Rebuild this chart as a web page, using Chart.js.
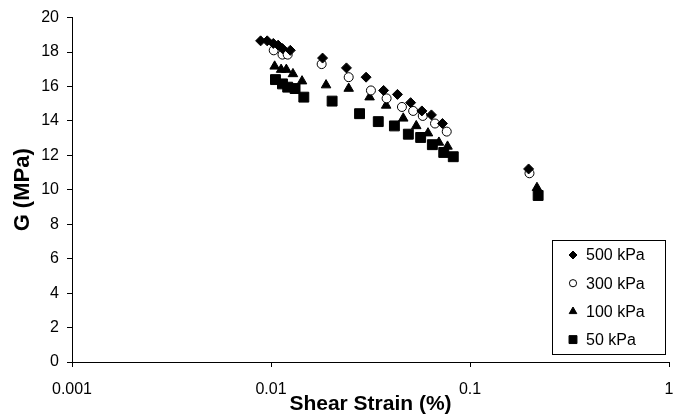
<!DOCTYPE html>
<html>
<head>
<meta charset="utf-8">
<script src="https://cdn.jsdelivr.net/npm/chart.js@4.4.0/dist/chart.umd.min.js"></script>
<style>
  html, body { margin: 0; padding: 0; background: #fff; }
  #wrap { width: 683px; height: 417px; }
</style>
</head>
<body>
<div id="wrap"><canvas id="gChart"></canvas></div>
<script>
// shear strain (%) and G (MPa)
const strain500 = [0.00887, 0.00957, 0.01027, 0.01086, 0.01142, 0.0125, 0.01816, 0.02394, 0.03005, 0.0368, 0.0432, 0.0503, 0.0573, 0.064, 0.0727, 0.197];
const g500 = [18.65, 18.65, 18.5, 18.4, 18.2, 18.1, 17.65, 17.08, 16.54, 15.77, 15.54, 15.06, 14.58, 14.35, 13.85, 11.21];

const strain300 = [0.01032, 0.01142, 0.01213, 0.01797, 0.02457, 0.03178, 0.0381, 0.0455, 0.0518, 0.0579, 0.0667, 0.0764, 0.199];
const g300 = [18.1, 17.85, 17.85, 17.3, 16.54, 15.77, 15.31, 14.81, 14.58, 14.29, 13.85, 13.38, 10.96];

const strain100 = [0.01043, 0.01124, 0.01194, 0.01289, 0.01432, 0.01891, 0.02457, 0.03129, 0.0379, 0.0462, 0.0537, 0.0615, 0.0698, 0.0771, 0.217];
const g100 = [17.17, 16.98, 16.98, 16.73, 16.31, 16.08, 15.88, 15.38, 14.9, 14.15, 13.71, 13.29, 12.75, 12.52, 10.12];

const strain50 = [0.01053, 0.01142, 0.01213, 0.01321, 0.01462, 0.02028, 0.02786, 0.0346, 0.0417, 0.049, 0.0565, 0.0647, 0.0738, 0.0824, 0.220];
const g50 = [16.4, 16.15, 15.96, 15.88, 15.38, 15.15, 14.42, 13.96, 13.71, 13.23, 13.04, 12.62, 12.17, 11.92, 9.67];

const seriesLabels = ['500 kPa', '300 kPa', '100 kPa', '50 kPa'];
const xTicks = [0.001, 0.01, 0.1, 1];
const yTicks = [0, 2, 4, 6, 8, 10, 12, 14, 16, 18, 20];

const FONT = "'Liberation Sans', Arial, sans-serif";

function pts(xs, ys) {
  return xs.map((x, i) => ({ x: x, y: ys[i] }));
}

const styles = [
  { pointStyle: 'rectRot', pointRadius: 5, bg: '#000', border: '#000' },
  { pointStyle: 'circle', pointRadius: 4.5, bg: '#fff', border: '#000' },
  { pointStyle: 'triangle', pointRadius: 5.5, bg: '#000', border: '#000' },
  { pointStyle: 'rect', pointRadius: 7, bg: '#000', border: '#000' },
];

const allData = [pts(strain500, g500), pts(strain300, g300), pts(strain100, g100), pts(strain50, g50)];

const datasets = allData.map((d, i) => ({
  label: seriesLabels[i],
  data: d,
  showLine: false,
  pointStyle: styles[i].pointStyle,
  pointRadius: styles[i].pointRadius,
  pointHoverRadius: styles[i].pointRadius,
  pointBackgroundColor: styles[i].bg,
  pointBorderColor: styles[i].border,
  pointBorderWidth: 1,
}));

// legend box drawn in the lower right corner of the plot
const legendBox = {
  id: 'legendBox',
  afterDraw(chart) {
    const ctx = chart.ctx;
    const a = chart.chartArea;
    const w = 113, h = 114;
    const x0 = a.right - 4 - w, y0 = a.bottom - 8 - h;
    ctx.save();
    ctx.fillStyle = '#fff';
    ctx.fillRect(x0, y0, w, h);
    ctx.strokeStyle = '#000';
    ctx.lineWidth = 1;
    ctx.strokeRect(Math.round(x0) + 0.5, Math.round(y0) + 0.5, w, h);
    ctx.font = '16px ' + FONT;
    ctx.textBaseline = 'middle';
    ctx.textAlign = 'left';
    seriesLabels.forEach((lab, i) => {
      const cy = y0 + 15 + i * 28.2;
      const cx = x0 + 21;
      const s = styles[i];
      ctx.fillStyle = s.bg;
      ctx.strokeStyle = s.border;
      ctx.lineWidth = 1;
      Chart.helpers.drawPoint(ctx, {
        pointStyle: s.pointStyle,
        radius: s.pointRadius * 0.8,
        rotation: 0,
        borderWidth: 1,
      }, cx, cy);
      ctx.fillStyle = '#000';
      ctx.fillText(lab, x0 + 34, cy + 1);
    });
    ctx.restore();
  }
};

new Chart(document.getElementById('gChart'), {
  type: 'scatter',
  data: { datasets: datasets },
  options: {
    responsive: true,
    maintainAspectRatio: false,
    animation: false,
    layout: { padding: { top: 16, right: 14, left: 0, bottom: 0 } },
    plugins: {
      legend: { display: false },
      tooltip: { enabled: false },
    },
    scales: {
      x: {
        type: 'logarithmic',
        min: 0.001,
        max: 1,
        afterBuildTicks: (scale) => { scale.ticks = xTicks.map(v => ({ value: v })); },
        afterFit: (scale) => {
          scale.height = 55;
          scale.paddingLeft = 0;
          scale.paddingRight = 0;
        },
        ticks: {
          color: '#000',
          font: { family: FONT, size: 16 },
          padding: 13,
          maxRotation: 0,
          autoSkip: false,
          callback: (v) => String(v),
        },
        grid: { drawOnChartArea: false, drawTicks: true, tickLength: 5, color: '#000' },
        border: { display: true, color: '#000', width: 1 },
        title: {
          display: true,
          text: 'Shear Strain (%)',
          color: '#000',
          font: { family: FONT, size: 21, weight: 'bold' },
          padding: { top: 0, bottom: 0 },
        },
      },
      y: {
        min: 0,
        max: 20,
        afterBuildTicks: (scale) => { scale.ticks = yTicks.map(v => ({ value: v })); },
        afterFit: (scale) => { scale.width = 72; },
        ticks: {
          color: '#000',
          font: { family: FONT, size: 16 },
          padding: 8,
        },
        grid: { drawOnChartArea: false, drawTicks: true, tickLength: 5, color: '#000' },
        border: { display: true, color: '#000', width: 1 },
        title: {
          display: true,
          text: 'G (MPa)',
          color: '#000',
          font: { family: FONT, size: 22, weight: 'bold' },
          padding: { top: 10, bottom: 4 },
        },
      },
    },
  },
  plugins: [legendBox],
});
</script>
</body>
</html>
